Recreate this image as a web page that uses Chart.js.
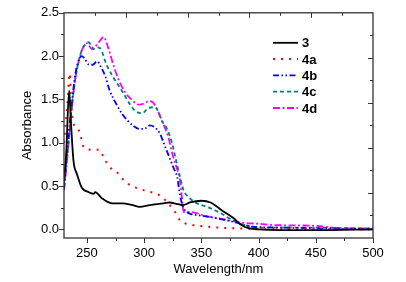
<!DOCTYPE html>
<html>
<head>
<meta charset="utf-8">
<script src="https://cdn.jsdelivr.net/npm/chart.js@4"></script>
<style>
  html, body { margin: 0; padding: 0; background: #fff; }
  #wrap { width: 406px; height: 282px; }
</style>
</head>
<body>
<div id="wrap"><canvas id="chart" width="406" height="282"></canvas></div>
<script>
// datos (longitud de onda en nm, absorbancia)
const wl3 = [230, 232, 234.5, 236, 238.3, 241.3, 245.6, 251.4, 255.8, 257.3, 263, 272, 281, 290, 296, 305, 317, 322, 330, 334, 340, 350, 358, 369, 378, 384, 392, 400, 450, 500];
const abs3 = [0.55, 0.9, 1.6, 1.25, 0.79, 0.64, 0.48, 0.43, 0.41, 0.43, 0.36, 0.30, 0.30, 0.28, 0.26, 0.28, 0.30, 0.31, 0.29, 0.28, 0.31, 0.33, 0.31, 0.21, 0.13, 0.06, 0.01, 0.0, -0.01, 0.0];

const wl4a = [230, 233, 235, 236.5, 238, 242.7, 245, 247.6, 255, 261, 265, 270, 277, 283.5, 291, 300, 314, 321, 327, 331.5, 339, 355, 384, 420, 500];
const abs4a = [1.0, 1.45, 1.8, 1.4, 1.23, 1.15, 1.05, 0.94, 0.92, 0.92, 0.82, 0.72, 0.65, 0.55, 0.49, 0.45, 0.39, 0.30, 0.20, 0.10, 0.06, 0.03, 0.01, 0.0, 0.0];

const wl4b = [230, 232, 234, 236, 238, 240, 243, 245.5, 248, 252, 255, 259, 262, 266, 270, 276, 281, 286, 291, 296, 300, 305, 310, 314, 317, 320, 323, 326, 329, 331, 333, 337, 349, 366, 380, 388, 395, 420, 460, 500];
const abs4b = [0.47, 0.8, 1.1, 1.35, 1.6, 1.8, 1.96, 2.0, 1.97, 1.9, 1.9, 1.94, 1.88, 1.77, 1.6, 1.44, 1.33, 1.25, 1.19, 1.16, 1.16, 1.2, 1.17, 1.1, 1.0, 0.9, 0.8, 0.7, 0.6, 0.42, 0.3, 0.2, 0.16, 0.12, 0.08, 0.05, 0.03, 0.02, 0.01, 0.0];

const wl4c = [230, 232, 234, 236, 238, 240, 243, 246, 249, 251.4, 254, 255.8, 258.7, 261.5, 267.5, 273.3, 280.6, 287.8, 292, 298, 304, 309.7, 315.6, 320, 324.3, 327, 330, 331.5, 334.5, 339, 344.7, 355, 366.5, 378, 388, 398.6, 430, 500];
const abs4c = [0.5, 0.75, 1.0, 1.3, 1.55, 1.75, 1.95, 2.08, 2.14, 2.16, 2.12, 2.08, 2.1, 2.09, 1.89, 1.75, 1.6, 1.44, 1.37, 1.34, 1.4, 1.41, 1.25, 1.16, 1.0, 0.85, 0.68, 0.6, 0.45, 0.37, 0.31, 0.26, 0.19, 0.1, 0.05, 0.02, 0.02, 0.01];

const wl4d = [230, 232, 234, 236, 238, 240, 243, 246, 250, 254.4, 258, 261, 264.5, 269, 273.3, 277.6, 283.5, 289, 295, 299.5, 304, 308, 312.6, 317, 321.3, 324.3, 328.7, 331, 333, 334.5, 340, 352, 372, 384, 398.6, 413, 450, 475, 500];
const abs4d = [0.45, 0.7, 1.0, 1.3, 1.55, 1.75, 1.95, 2.08, 2.15, 2.08, 2.12, 2.17, 2.22, 2.08, 1.89, 1.73, 1.58, 1.5, 1.44, 1.45, 1.48, 1.46, 1.35, 1.21, 1.06, 0.89, 0.7, 0.6, 0.37, 0.2, 0.2, 0.16, 0.11, 0.08, 0.065, 0.05, 0.04, 0.01, 0.01];

const seriesNames = ['3', '4a', '4b', '4c', '4d'];
const xTicks = [250, 275, 300, 325, 350, 375, 400, 425, 450, 475, 500];
const yTicks = [0, 0.25, 0.5, 0.75, 1.0, 1.25, 1.5, 1.75, 2.0, 2.25, 2.5];

const FONT = 'Liberation Sans, Arial, sans-serif';

function pts(xs, ys) {
  return xs.map((x, i) => ({ x: x, y: ys[i] }));
}

// marco con marcas arriba y a la derecha, mas las marcas de los ejes
const framePlugin = {
  id: 'frame',
  afterDraw(chart) {
    const { ctx, chartArea: a, scales } = chart;
    ctx.save();
    ctx.strokeStyle = '#333';
    ctx.lineWidth = 1.3;
    ctx.strokeRect(a.left, a.top, a.right - a.left, a.bottom - a.top);
    ctx.lineWidth = 1;
    ctx.beginPath();
    xTicks.forEach(v => {
      const px = Math.round(scales.x.getPixelForValue(v)) + 0.5;
      const len = v % 50 === 0 ? 5 : 3;
      ctx.moveTo(px, a.bottom);
      ctx.lineTo(px, a.bottom + len);
    });
    yTicks.forEach(v => {
      const py = Math.round(scales.y.getPixelForValue(v)) + 0.5;
      const len = Math.abs(v * 2 - Math.round(v * 2)) < 1e-6 ? 5 : 3;
      ctx.moveTo(a.left, py);
      ctx.lineTo(a.left - len, py);
    });
    // eje superior y derecho divididos en 10 partes
    for (let i = 1; i < 10; i++) {
      const len = i % 2 === 0 ? 5 : 3;
      const px = Math.round(a.left + (a.right - a.left) * i / 10) + 0.5;
      ctx.moveTo(px, a.top);
      ctx.lineTo(px, a.top + len);
      const py = Math.round(a.top + (a.bottom - a.top) * i / 10) + 0.5;
      ctx.moveTo(a.right, py);
      ctx.lineTo(a.right - len, py);
    }
    ctx.stroke();

    // leyenda
    const lx = a.right - 100;
    let ly = a.top + 30;
    ctx.font = 'bold 13px ' + FONT;
    ctx.textBaseline = 'middle';
    chart.data.datasets.forEach(ds => {
      ctx.strokeStyle = ds.borderColor;
      ctx.lineWidth = ds.borderWidth;
      ctx.setLineDash(ds.borderDash || []);
      ctx.beginPath();
      ctx.moveTo(lx, ly);
      ctx.lineTo(lx + 25, ly);
      ctx.stroke();
      ctx.setLineDash([]);
      ctx.fillStyle = '#000';
      ctx.fillText(ds.label, lx + 29, ly + 1);
      ly += 16.3;
    });
    ctx.restore();
  }
};

const ctx = document.getElementById('chart').getContext('2d');
new Chart(ctx, {
  type: 'line',
  data: {
    datasets: [
      { label: seriesNames[0], data: pts(wl3, abs3), borderColor: '#000000', borderWidth: 1.8 },
      { label: seriesNames[1], data: pts(wl4a, abs4a), borderColor: '#ff0000', borderWidth: 2, borderDash: [2, 6] },
      { label: seriesNames[2], data: pts(wl4b, abs4b), borderColor: '#0000ff', borderWidth: 1.8, borderDash: [6, 2.5, 1.5, 2.5, 1.5, 2.5] },
      { label: seriesNames[3], data: pts(wl4c, abs4c), borderColor: '#008080', borderWidth: 1.8, borderDash: [4, 3] },
      { label: seriesNames[4], data: pts(wl4d, abs4d), borderColor: '#ff00ff', borderWidth: 1.8, borderDash: [7, 2.5, 2, 2.5] }
    ]
  },
  options: {
    responsive: false,
    animation: false,
    layout: { padding: { top: 12, right: 33, bottom: 0, left: 0 } },
    elements: {
      point: { radius: 0 },
      line: { cubicInterpolationMode: 'monotone', fill: false }
    },
    plugins: {
      legend: { display: false },
      tooltip: { enabled: false }
    },
    scales: {
      x: {
        type: 'linear',
        min: 230,
        max: 500,
        grid: { display: false, drawTicks: false },
        border: { display: false },
        afterBuildTicks: s => { s.ticks = xTicks.map(v => ({ value: v })); },
        afterFit: s => { s.height = 44; },
        ticks: {
          color: '#000',
          padding: 8,
          font: { family: FONT, size: 13 },
          maxRotation: 0,
          callback: v => (v % 50 === 0 ? String(v) : '')
        },
        title: {
          display: true,
          text: 'Wavelength/nm',
          color: '#000',
          font: { family: FONT, size: 13 },
          padding: { top: 0, bottom: 5 }
        }
      },
      y: {
        min: -0.1,
        max: 2.5,
        grid: { display: false, drawTicks: false },
        border: { display: false },
        afterBuildTicks: s => { s.ticks = yTicks.map(v => ({ value: v })); },
        afterFit: s => { s.width = 64; },
        ticks: {
          color: '#000',
          padding: 5,
          font: { family: FONT, size: 13 },
          callback: v => (Math.abs(v * 2 - Math.round(v * 2)) < 1e-6 ? v.toFixed(1) : '')
        },
        title: {
          display: true,
          text: 'Absorbance',
          color: '#000',
          font: { family: FONT, size: 13 },
          padding: { top: 20, bottom: 0 }
        }
      }
    }
  },
  plugins: [framePlugin]
});
</script>
</body>
</html>
